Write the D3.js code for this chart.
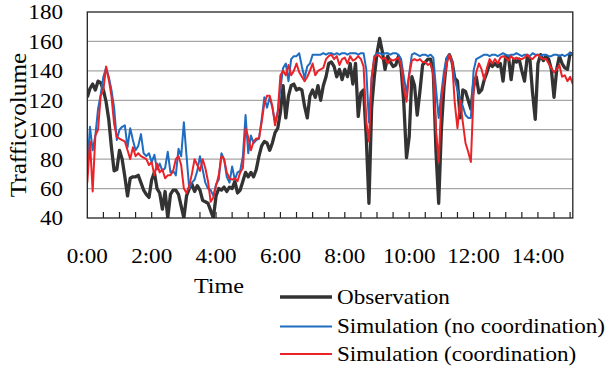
<!DOCTYPE html>
<html><head><meta charset="utf-8">
<script src="https://cdn.jsdelivr.net/npm/d3@7"></script>
<style>
body{margin:0;background:#fff}
svg text{font-family:"Liberation Serif","Times New Roman",serif;fill:#000}
</style>
</head><body>
<svg id="chart" width="607" height="369"></svg>
<script>
// 5-minute samples starting at 0:00
const stepMinutes = 5;
const observation = [
122,128,131,127,133,132,127,119,107,88,
72,73,86,80,68,55,67,68,68,69,
64,59,56,54,66,71,60,57,46,58,
40,56,59,59,56,48,40,55,60,63,
58,62,59,52,51,50,45,40,55,60,
59,61,58,61,60,65,57,59,65,71,
68,71,68,73,82,89,92,91,86,91,
98,101,112,130,108,123,130,131,127,128,
127,116,108,123,127,122,130,120,130,136,
145,146,143,136,141,134,141,136,145,131,
145,109,125,127,95,50,115,136,152,162,
153,141,150,146,143,144,150,142,118,81,
95,136,130,110,126,144,146,148,148,139,
85,50,100,130,148,151,146,135,133,108,
127,126,120,114,130,136,125,127,134,139,
145,143,145,143,145,133,150,150,134,148,
146,148,140,133,149,148,125,107,145,151,
147,150,148,141,122,141,150,145,142,141,
152,151];
const simNoCoordination = [
75,102,86,96,114,124,136,142,136,127,
115,93,100,102,103,88,101,93,86,89,
97,84,82,84,78,83,73,77,72,74,
85,71,72,69,87,82,105,82,60,64,
66,72,82,73,64,60,59,55,63,66,
84,80,68,64,75,66,71,72,82,110,
84,96,91,93,94,107,122,115,122,115,
105,112,128,142,145,133,148,150,150,152,
143,135,143,145,151,151,151,151,152,151,
152,152,151,152,151,152,152,151,152,152,
152,151,152,152,141,105,135,150,152,152,
151,152,152,151,152,152,151,148,136,125,
138,151,152,151,150,151,151,150,151,149,
128,108,125,140,149,151,147,134,127,120,
116,110,108,108,140,148,149,150,151,151,
150,151,151,150,151,152,151,150,151,151,
152,151,150,151,151,150,152,151,151,150,
151,151,150,150,151,151,150,151,150,151,
152,151];
const simCoordination = [
64,92,58,96,100,123,127,143,134,123,
104,95,94,93,92,86,80,88,82,84,
82,81,80,76,78,69,77,71,73,67,
69,69,72,80,82,76,60,57,62,70,
80,76,72,80,74,65,51,54,62,69,
82,80,71,67,66,67,65,71,74,101,
95,86,92,94,94,105,118,123,123,116,
103,112,137,140,137,144,137,140,145,139,
136,133,136,140,145,137,140,141,142,148,
150,151,148,150,144,148,149,145,150,147,
148,150,148,143,105,92,135,149,151,150,
148,149,145,148,147,148,149,144,128,119,
137,147,148,147,148,146,146,144,145,137,
100,78,120,133,145,151,146,118,101,120,
105,91,85,78,125,139,145,141,134,142,
148,145,148,145,149,150,149,147,150,148,
149,148,148,149,151,149,148,150,151,149,
148,148,145,142,139,141,144,136,137,133,
136,131];
const yTicks = [40,60,80,100,120,140,160,180];
const xLabels = ["0:00","2:00","4:00","6:00","8:00","10:00","12:00","14:00"];
const xLabelMinutes = [0,120,240,360,480,600,720,840];
const seriesNames = ["Observation","Simulation (no coordination)","Simulation (coordination)"];
const seriesColors = ["#333333","#1f6dc0","#ea2329"];
const seriesWidths = [3.3,2,2];

const svg = d3.select("#chart");
const L = 87.3, R = 572.8, T = 12, B = 218;
const SX = 1.1; // horizontal stretch of the original lettering
const x = d3.scaleLinear().domain([0, (observation.length - 1) * stepMinutes]).range([L, R]);
const y = d3.scaleLinear().domain([40, 180]).range([B, T]);

// gridlines
svg.append("g").selectAll("line").data(yTicks.filter(v => v > 40 && v < 180)).join("line")
  .attr("x1", L).attr("x2", R).attr("y1", d => y(d)).attr("y2", d => y(d))
  .attr("stroke", "#a6a6a6").attr("stroke-width", 1.3);

// y tick labels
svg.append("g").selectAll("text").data(yTicks).join("text")
  .attr("transform", d => `translate(63,${y(d)}) scale(${SX},1)`)
  .attr("dy", "0.35em").attr("text-anchor", "end").attr("font-size", 21)
  .text(d => d);

// x ticks (30 min, inside)
const tickMins = d3.range(30, 901, 30);
svg.append("g").selectAll("line").data(tickMins).join("line")
  .attr("x1", d => x(d)).attr("x2", d => x(d)).attr("y1", B).attr("y2", B - 6)
  .attr("stroke", "#222").attr("stroke-width", 1.2);

// x labels
svg.append("g").selectAll("text").data(xLabels).join("text")
  .attr("transform", (d, i) => `translate(${x(xLabelMinutes[i])},263) scale(${SX},1)`)
  .attr("text-anchor", "middle").attr("font-size", 21)
  .text(d => d);

// data lines
svg.append("clipPath").attr("id", "clip").append("rect")
  .attr("x", L).attr("y", T).attr("width", R - L).attr("height", B - T);
const line = d3.line().x((d, i) => x(i * stepMinutes)).y(d => y(d));
const series = [observation, simNoCoordination, simCoordination];
const g = svg.append("g").attr("clip-path", "url(#clip)");
series.forEach((s, k) => {
  g.append("path").datum(s).attr("d", line).attr("fill", "none")
    .attr("stroke", seriesColors[k]).attr("stroke-width", seriesWidths[k])
    .attr("stroke-linejoin", "round");
});

// frame
svg.append("rect").attr("x", L).attr("y", T).attr("width", R - L).attr("height", B - T)
  .attr("fill", "none").attr("stroke", "#222").attr("stroke-width", 1.3);

// axis titles
svg.append("text").attr("transform", `translate(219,292.5) scale(${SX},1)`)
  .attr("text-anchor", "middle").attr("font-size", 22).text("Time");
svg.append("text").attr("transform", `translate(26,125) rotate(-90) scale(${SX},1)`)
  .attr("text-anchor", "middle").attr("font-size", 23).text("Trafficvolume");

// legend
const legY = [297, 326.5, 354];
const lg = svg.append("g");
seriesNames.forEach((n, k) => {
  lg.append("line").attr("x1", 280).attr("x2", 332).attr("y1", legY[k]).attr("y2", legY[k])
    .attr("stroke", seriesColors[k]).attr("stroke-width", seriesWidths[k] + (k ? 0.2 : 0.3));
  lg.append("text").attr("transform", `translate(337,${legY[k]}) scale(${SX},1)`)
    .attr("dy", "0.33em").attr("font-size", 21).text(n);
});
</script>
</body></html>
